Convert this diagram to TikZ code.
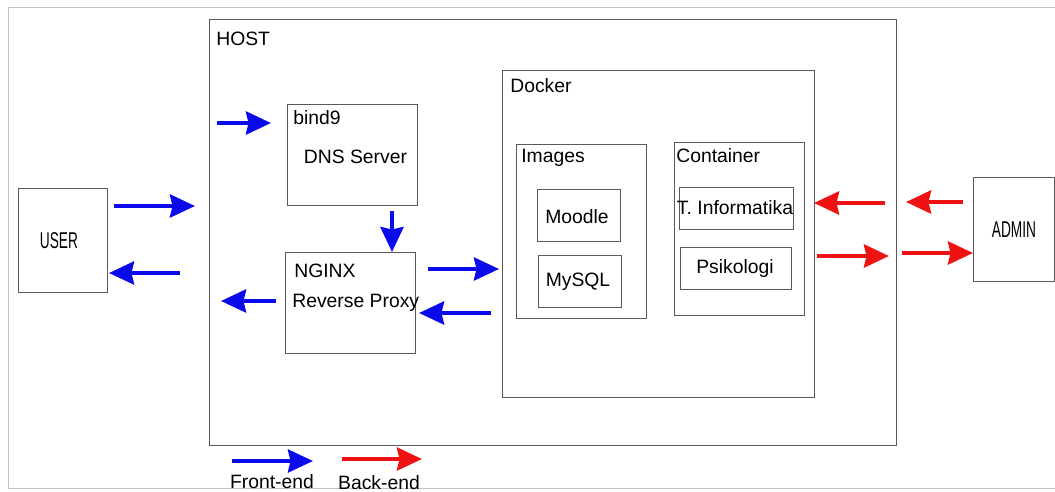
\documentclass[tikz,border=0pt]{standalone}
\usepackage{fontspec}
\usepackage{graphicx}
\setmainfont{Liberation Sans}
\usetikzlibrary{arrows.meta,positioning}
\definecolor{feblue}{RGB}{10,10,235}
\definecolor{bered}{RGB}{238,18,18}
\definecolor{boxgray}{RGB}{90,90,90}
\definecolor{framegray}{RGB}{195,195,195}
\begin{document}
\begin{tikzpicture}[x=0.2mm, y=-0.2mm, font=\fontsize{11pt}{13pt}\selectfont,
    box/.style = {draw=boxgray, line width=0.5pt, rectangle, inner sep=0pt},
    lbl/.style = {inner sep=0pt, anchor=base west},
    mid/.style = {inner sep=0pt, anchor=base},
    narrow/.style = {inner sep=0pt, anchor=base, font=\fontsize{13pt}{15pt}\selectfont},
    fe/.style = {feblue, line width=0.8mm, -{Stealth[length=5mm, width=4.6mm, inset=0.5mm]}},
    be/.style = {bered, line width=0.8mm, -{Stealth[length=5mm, width=4.6mm, inset=0.5mm]}}]
    \fill[white] (0,0) rectangle (1055,491);
    \useasboundingbox (0,0) rectangle (1055,491);
    \draw[framegray, line width=0.5pt] (1055,7) -- (8,7) -- (8,488) -- (1055,488);
    % boxes
    \node[box, minimum width=137.4mm, minimum height=85.2mm] (host) at (552.5,232) {};
    \node[box, minimum width=17.8mm, minimum height=20.8mm] (user) at (62.5,240) {};
    \node[box, minimum width=16.2mm, minimum height=20.8mm] (admin) at (1013.5,229) {};
    \node[box, minimum width=26mm, minimum height=20.2mm] (bind) at (352,154.5) {};
    \node[box, minimum width=26mm, minimum height=20.2mm] (nginx) at (350,302.5) {};
    \node[box, minimum width=62.4mm, minimum height=65.4mm] (docker) at (658,233.5) {};
    \node[box, minimum width=26mm, minimum height=34.8mm] (images) at (581,231) {};
    \node[box, minimum width=16.6mm, minimum height=10.4mm] (moodle) at (578.5,215) {};
    \node[box, minimum width=16.6mm, minimum height=10.4mm] (mysql) at (579.5,281) {};
    \node[box, minimum width=26mm, minimum height=34.6mm] (container) at (739,228.5) {};
    \node[box, minimum width=22.8mm, minimum height=8.4mm] (tinf) at (736,208) {};
    \node[box, minimum width=22.2mm, minimum height=8.4mm] (psik) at (735.5,268) {};
    % texts
    \node[lbl] (hostlbl) at (216,45.5) {HOST};
    \node[narrow] (userlbl) at (59,248) {\scalebox{0.6}[1]{USER}};
    \node[narrow] (adminlbl) at (1014,237) {\scalebox{0.6}[1]{ADMIN}};
    \node[lbl] (bindlbl) at (293,124) {bind9};
    \node[mid] (dnslbl) at (355.5,163) {DNS Server};
    \node[lbl] (nginxlbl) at (294,277) {NGINX};
    \node[lbl] (proxylbl) at (292,307) {Reverse Proxy};
    \node[lbl] (dockerlbl) at (510,92) {Docker};
    \node[lbl] (imageslbl) at (521,162) {Images};
    \node[lbl] (contlbl) at (676,162) {Container};
    \node[mid] (moodlelbl) at (577,223) {Moodle};
    \node[mid] (mysqllbl) at (578,286) {MySQL};
    \node[mid] (tinflbl) at (735,214) {T. Informatika};
    \node[mid] (psiklbl) at (735,273) {Psikologi};
    \node[mid] (felbl) at (272,488) {Front-end};
    \node[mid] (belbl) at (379,489) {Back-end};
    % arrow ends
    \coordinate (u1) at (114,206); \coordinate (h1) at (195,206);
    \coordinate (h2) at (180,273); \coordinate (u2) at (109,273);
    \coordinate (d1) at (217,123); \coordinate (d2) at (271,123);
    \coordinate (n1) at (392,211); \coordinate (n2) at (392,252);
    \coordinate (p1) at (276,301); \coordinate (p2) at (221,301);
    \coordinate (k1) at (428,269); \coordinate (k2) at (499,269);
    \coordinate (k3) at (491,313); \coordinate (k4) at (419,313);
    \coordinate (r1) at (885,203); \coordinate (r2) at (814,203);
    \coordinate (r3) at (963,202); \coordinate (r4) at (906,202);
    \coordinate (r5) at (817,256); \coordinate (r6) at (889,256);
    \coordinate (r7) at (902,253); \coordinate (r8) at (973,253);
    \coordinate (lf1) at (232,461); \coordinate (lf2) at (313,461);
    \coordinate (lb1) at (342,459); \coordinate (lb2) at (422,459);
    % front-end
    \draw[fe] (u1) -- (h1);
    \draw[fe] (h2) -- (u2);
    \draw[fe] (d1) -- (d2);
    \draw[fe] (n1) -- (n2);
    \draw[fe] (p1) -- (p2);
    \draw[fe] (k1) -- (k2);
    \draw[fe] (k3) -- (k4);
    % back-end
    \draw[be] (r1) -- (r2);
    \draw[be] (r3) -- (r4);
    \draw[be] (r5) -- (r6);
    \draw[be] (r7) -- (r8);
    % legend
    \draw[fe] (lf1) -- (lf2);
    \draw[be] (lb1) -- (lb2);
\end{tikzpicture}
\end{document}
